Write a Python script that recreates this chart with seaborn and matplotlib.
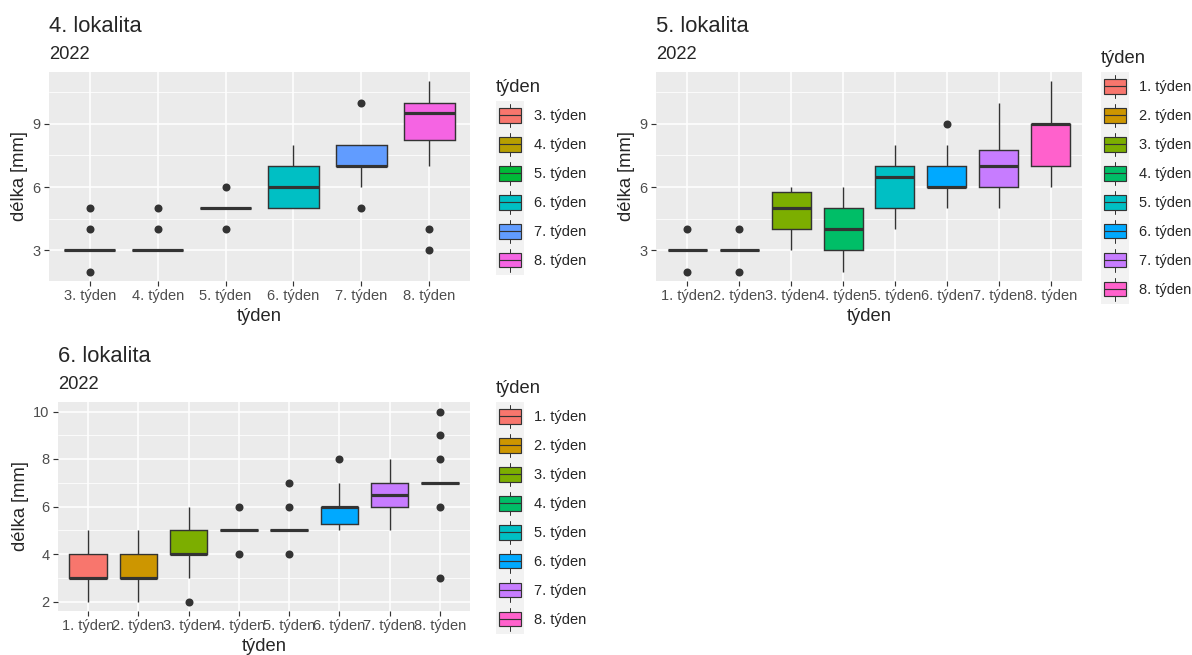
import numpy as np
import pandas as pd
import matplotlib
matplotlib.use("Agg")
import matplotlib.pyplot as plt
import seaborn as sns
from matplotlib.patches import Patch, Rectangle
from matplotlib.lines import Line2D
from matplotlib.legend_handler import HandlerBase
from matplotlib.ticker import FixedLocator

# data: lengths (mm) per week, one list per week
lok4_weeks = ["3. týden", "4. týden", "5. týden", "6. týden", "7. týden", "8. týden"]
lok4_values = [
    [2, 3, 3, 3, 3, 3, 3, 3, 3, 3, 4, 5],
    [3, 3, 3, 3, 3, 3, 3, 3, 3, 4, 5],
    [4, 5, 5, 5, 5, 5, 5, 5, 5, 6],
    [5, 5, 5, 5, 6, 6, 6, 7, 7, 7, 7, 8],
    [5, 6, 7, 7, 7, 7, 7, 8, 8, 8, 10],
    [3, 4, 7, 8, 9, 9, 9, 10, 10, 10, 10, 10, 10, 11],
]

lok5_weeks = ["1. týden", "2. týden", "3. týden", "4. týden",
              "5. týden", "6. týden", "7. týden", "8. týden"]
lok5_values = [
    [2, 3, 3, 3, 3, 3, 3, 3, 3, 4],
    [2, 3, 3, 3, 3, 3, 3, 3, 3, 4],
    [3, 4, 4, 4, 5, 5, 5, 6, 6, 6],
    [2, 3, 3, 4, 4, 4, 5, 5, 6],
    [4, 5, 5, 5, 6, 7, 7, 7, 7, 8],
    [5, 6, 6, 6, 6, 7, 7, 8, 9],
    [5, 6, 6, 6, 7, 7, 7, 8, 9, 10],
    [6, 7, 7, 8, 9, 9, 9, 10, 11],
]

lok6_weeks = lok5_weeks
lok6_values = [
    [2, 3, 3, 3, 3, 4, 4, 5],
    [2, 3, 3, 3, 3, 4, 4, 5],
    [2, 3, 4, 4, 4, 4, 5, 5, 6],
    [4, 5, 5, 5, 5, 5, 5, 5, 5, 6],
    [4, 5, 5, 5, 5, 5, 5, 5, 5, 5, 6, 7],
    [5, 5, 5, 6, 6, 6, 6, 6, 7, 8],
    [5, 6, 6, 6, 6, 7, 7, 7, 7, 8],
    [3, 6, 7, 7, 7, 7, 7, 7, 7, 7, 7, 7, 8, 9, 10],
]

# ggplot default hue palettes
hue6 = ["#F8766D", "#B79F00", "#00BA38", "#00BFC4", "#619CFF", "#F564E3"]
hue8 = ["#F8766D", "#CD9600", "#7CAE00", "#00BE67",
        "#00BFC4", "#00A9FF", "#C77CFF", "#FF61CC"]

W, H = 1192, 655
DPI = 120

sns.set_style("darkgrid")
plt.rcParams['font.family'] = ['Liberation Sans', 'DejaVu Sans']

DARK = "#333333"


class BoxKey(HandlerBase):
    """ggplot-like boxplot legend key"""
    def create_artists(self, legend, orig_handle, xdescent, ydescent,
                       width, height, fontsize, trans):
        x0, y0 = -xdescent, -ydescent
        bg = Rectangle((x0, y0), width, height, facecolor="#F2F2F2",
                       edgecolor="none", transform=trans)
        cx = x0 + width / 2
        whisk = Line2D([cx, cx], [y0 + 0.1 * height, y0 + 0.9 * height],
                       color=DARK, lw=0.6, transform=trans)
        box = Rectangle((x0 + 0.1 * width, y0 + 0.25 * height), 0.8 * width, 0.5 * height,
                        facecolor=orig_handle.get_facecolor(), edgecolor=DARK,
                        lw=0.7, transform=trans)
        med = Line2D([x0 + 0.1 * width, x0 + 0.9 * width], [y0 + height / 2] * 2,
                     color=DARK, lw=0.7, transform=trans)
        return [bg, whisk, box, med]


def to_frame(weeks, values):
    rows = [(w, v) for w, vals in zip(weeks, values) for v in vals]
    return pd.DataFrame(rows, columns=["tyden", "delka"])


def panel(fig, box_px, weeks, values, colors, title, ylim, yticks, yminor,
          legend_xy):
    x0, y0, x1, y1 = box_px
    ax = fig.add_axes([x0 / W, 1 - y1 / H, (x1 - x0) / W, (y1 - y0) / H])
    df = to_frame(weeks, values)
    sns.boxplot(data=df, x="tyden", y="delka", hue="tyden", order=weeks,
                hue_order=weeks, palette=colors, dodge=False, width=0.75,
                saturation=1, linecolor=DARK, linewidth=0.85, showcaps=False,
                fliersize=3.8,
                flierprops=dict(marker="o", markerfacecolor=DARK,
                                markeredgecolor=DARK),
                medianprops=dict(linewidth=1.9, color=DARK),
                legend=False, ax=ax)

    ax.set_facecolor("#EBEBEB")
    for s in ax.spines.values():
        s.set_visible(False)
    ax.set_xlim(-0.6, len(weeks) - 0.4)
    ax.set_ylim(*ylim)
    ax.set_yticks(yticks)
    ax.set_yticklabels([str(t) for t in yticks])
    ax.yaxis.set_minor_locator(FixedLocator(yminor))
    ax.grid(False)
    ax.grid(True, which="major", color="white", linewidth=0.9)
    ax.grid(True, which="minor", axis="y", color="white", linewidth=0.45)
    ax.set_axisbelow(True)
    ax.tick_params(which="major", length=2.75, width=0.7, color=DARK,
                   pad=2.2, labelsize=8.8, labelcolor="#4D4D4D",
                   bottom=True, left=True)
    ax.tick_params(which="minor", length=0)
    ax.set_xlabel("týden", fontsize=11, labelpad=2.75)
    ax.set_ylabel("délka [mm]", fontsize=11, labelpad=2.75)

    fig.text(x0 / W, 1 - (y0 - 40) / H, title, fontsize=13.2, va="baseline")
    fig.text(x0 / W, 1 - (y0 - 13) / H, "2022", fontsize=11, va="baseline")

    handles = [Patch(facecolor=c, label=w) for w, c in zip(weeks, colors)]
    leg = ax.legend(handles=handles, title="týden", loc="upper left",
                    bbox_to_anchor=(legend_xy[0] / W, 1 - legend_xy[1] / H),
                    bbox_transform=fig.transFigure, frameon=False,
                    borderpad=0, borderaxespad=0, labelspacing=0,
                    handlelength=1.91, handleheight=2.66, handletextpad=0.68,
                    fontsize=8.8, title_fontsize=11, alignment="left",
                    handler_map={Patch: BoxKey()})
    leg._legend_box.sep = 3
    return ax


fig = plt.figure(figsize=(W / DPI, H / DPI), dpi=DPI)

panel(fig, (49, 72, 470, 281), lok4_weeks, lok4_values, hue6, "4. lokalita",
      (1.55, 11.45), [3, 6, 9], [4.5, 7.5, 10.5], (496, 79))
panel(fig, (656, 72, 1082, 281), lok5_weeks, lok5_values, hue8, "5. lokalita",
      (1.55, 11.45), [3, 6, 9], [4.5, 7.5, 10.5], (1101, 50))
panel(fig, (58, 402, 470, 611), lok6_weeks, lok6_values, hue8, "6. lokalita",
      (1.6, 10.4), [2, 4, 6, 8, 10], [3, 5, 7, 9], (496, 380))

fig.savefig("out.png", dpi=DPI, facecolor="white")
